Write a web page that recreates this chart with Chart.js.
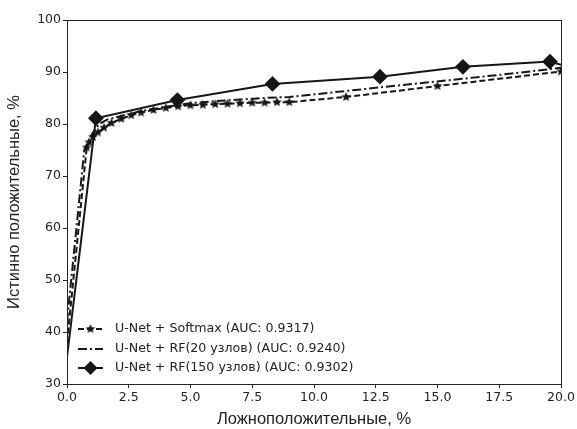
<!DOCTYPE html>
<html>
<head>
<meta charset="utf-8">
<script src="https://cdn.jsdelivr.net/npm/chart.js@4"></script>
<style>
  body { margin: 0; background: #fff; }
  #wrap { width: 577px; height: 429px; }
</style>
</head>
<body>
<div id="wrap"><canvas id="myChart" width="577" height="429"></canvas></div>
<script>
// ROC data (x: false positives %, y: true positives %)
const softmaxX = [0, 0.8, 0.9, 1.05, 1.25, 1.5, 1.8, 2.2, 2.6, 3.0, 3.5, 4.0, 4.5, 5.0, 5.5, 6.0, 6.5, 7.0, 7.5, 8.0, 8.5, 9.0, 11.3, 15.0, 20.0];
const softmaxY = [38, 75.5, 76.5, 77.5, 78.4, 79.3, 80.2, 81.0, 81.7, 82.2, 82.7, 83.1, 83.4, 83.6, 83.7, 83.8, 83.9, 84.0, 84.1, 84.1, 84.2, 84.2, 85.2, 87.3, 90.1];

const rf20X = [0, 0.7, 1.0, 1.3, 1.6, 2.0, 2.5, 3.0, 4.0, 5.0, 6.0, 7.0, 8.0, 9.0, 10.0, 12.0, 14.0, 16.0, 18.0, 20.0];
const rf20Y = [42, 75.0, 78.0, 80.0, 80.8, 81.3, 81.9, 82.5, 83.3, 84.0, 84.4, 84.7, 85.0, 85.2, 85.7, 86.7, 87.7, 88.7, 89.7, 90.8];

const rf150X = [0, 1.17, 4.47, 8.32, 12.67, 16.03, 19.55, 20.0];
const rf150Y = [35.2, 81.1, 84.6, 87.7, 89.1, 91.0, 92.0, 91.4];

const xTicks = [0, 2.5, 5, 7.5, 10, 12.5, 15, 17.5, 20];
const yTicks = [30, 40, 50, 60, 70, 80, 90, 100];

const legendLabels = [
    'U-Net + Softmax (AUC: 0.9317)',
    'U-Net + RF(20 узлов) (AUC: 0.9240)',
    'U-Net + RF(150 узлов) (AUC: 0.9302)'
];

const lineColor = '#161616';
const font = 'DejaVu Sans';
const titleFont = 'Liberation Sans';

const toPoints = (xs, ys) => xs.map((x, i) => ({ x: x, y: ys[i] }));

// filled star marker like matplotlib '*'
const makeStar = (r) => {
    const c = document.createElement('canvas');
    c.width = r * 2 + 2;
    c.height = r * 2 + 2;
    const g = c.getContext('2d');
    g.fillStyle = lineColor;
    g.beginPath();
    for (let i = 0; i < 10; i++) {
        const rad = i % 2 === 0 ? r : r * 0.45;
        const a = -Math.PI / 2 + i * Math.PI / 5;
        const px = r + 1 + rad * Math.cos(a);
        const py = r + 1 + rad * Math.sin(a);
        if (i === 0) g.moveTo(px, py); else g.lineTo(px, py);
    }
    g.closePath();
    g.fill();
    return c;
};
const star = makeStar(5);

// rf150 markers everywhere except the first and last tail point
const rf150Radius = rf150X.map((x, i) => (i === 0 || i === rf150X.length - 1) ? 0 : 6.5);
const softRadius = softmaxX.map((x, i) => i === 0 ? 0 : 5);

const frameAndLegend = {
    id: 'frameAndLegend',
    afterDatasetsDraw(chart) {
        const ctx = chart.ctx;
        const a = chart.chartArea;
        ctx.save();
        ctx.strokeStyle = '#222';
        ctx.lineWidth = 1;
        ctx.strokeRect(a.left + 0.5, a.top + 0.5, a.right - a.left, a.bottom - a.top);

        // legend
        const x0 = 78, x1 = 103;
        const rows = [329, 349, 368];
        const dashes = [[6, 3], [9, 3, 2, 3], []];
        ctx.strokeStyle = lineColor;
        ctx.fillStyle = lineColor;
        ctx.lineWidth = 2;
        rows.forEach((y, i) => {
            ctx.setLineDash(dashes[i]);
            ctx.beginPath();
            ctx.moveTo(x0, y);
            ctx.lineTo(x1, y);
            ctx.stroke();
            ctx.setLineDash([]);
            const cx = (x0 + x1) / 2;
            if (i === 0) {
                ctx.drawImage(star, cx - star.width / 2, y - star.height / 2);
            } else if (i === 2) {
                ctx.beginPath();
                ctx.moveTo(cx, y - 7);
                ctx.lineTo(cx + 7, y);
                ctx.lineTo(cx, y + 7);
                ctx.lineTo(cx - 7, y);
                ctx.closePath();
                ctx.fill();
            }
            ctx.font = '12.6px "' + font + '"';
            ctx.textBaseline = 'middle';
            ctx.textAlign = 'left';
            ctx.fillStyle = '#222';
            ctx.fillText(legendLabels[i], 115, y);
            ctx.fillStyle = lineColor;
        });
        ctx.restore();
    }
};

const chart = new Chart(document.getElementById('myChart').getContext('2d'), {
    type: 'line',
    data: {
        datasets: [{
            label: legendLabels[0],
            data: toPoints(softmaxX, softmaxY),
            borderColor: lineColor,
            backgroundColor: lineColor,
            borderWidth: 2,
            borderDash: [6, 3],
            pointStyle: star,
            pointRadius: softRadius,
            tension: 0
        }, {
            label: legendLabels[1],
            data: toPoints(rf20X, rf20Y),
            borderColor: lineColor,
            borderWidth: 2,
            borderDash: [9, 3, 2, 3],
            pointRadius: 0,
            tension: 0
        }, {
            label: legendLabels[2],
            data: toPoints(rf150X, rf150Y),
            borderColor: lineColor,
            backgroundColor: lineColor,
            borderWidth: 2,
            pointStyle: 'rectRot',
            pointRadius: rf150Radius,
            tension: 0
        }]
    },
    options: {
        responsive: false,
        animation: false,
        layout: { padding: { top: 20, right: 16, left: 0, bottom: 0 } },
        plugins: { legend: { display: false }, tooltip: { enabled: false } },
        scales: {
            x: {
                type: 'linear',
                min: 0, max: 20,
                afterBuildTicks: (s) => { s.ticks = xTicks.map(v => ({ value: v })); },
                afterFit: (s) => { s.height = 45; },
                grid: { drawOnChartArea: false, tickLength: 4, color: '#222' },
                border: { color: '#222' },
                ticks: {
                    color: '#222', padding: 2,
                    font: { family: font, size: 12.5 },
                    callback: (v) => v.toFixed(1)
                },
                title: {
                    display: true, text: 'Ложноположительные, %', color: '#222',
                    font: { family: titleFont, size: 16.5 }, padding: { top: 2, bottom: 0 }
                }
            },
            y: {
                min: 30, max: 100,
                afterBuildTicks: (s) => { s.ticks = yTicks.map(v => ({ value: v })); },
                afterFit: (s) => { s.width = 67; },
                grid: { drawOnChartArea: false, tickLength: 4, color: '#222' },
                border: { color: '#222' },
                ticks: {
                    color: '#222', padding: 2,
                    font: { family: font, size: 12.5 }
                },
                title: {
                    display: true, text: 'Истинно положительные, %', color: '#222',
                    font: { family: titleFont, size: 16.5 }, padding: { top: 5, bottom: 0 }
                }
            }
        }
    },
    plugins: [frameAndLegend]
});
</script>
</body>
</html>
